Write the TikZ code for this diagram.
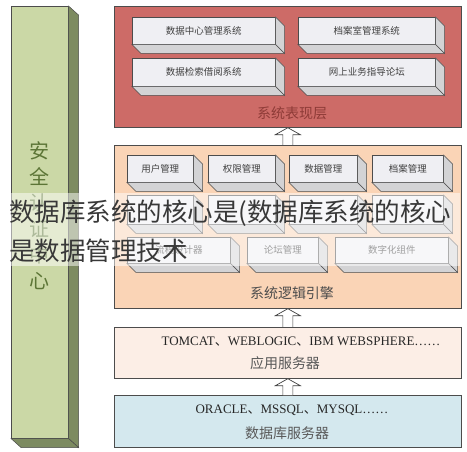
\documentclass[tikz,border=0pt]{standalone}
\usepackage{fontspec}
\setmainfont{Liberation Serif}
\newfontfamily\cjk{Noto Sans CJK SC}
\usetikzlibrary{calc}

\definecolor{showred}{HTML}{CD6B67}
\definecolor{showtext}{HTML}{8E3B37}
\definecolor{logicpeach}{HTML}{FAD4B6}
\definecolor{apppeach}{HTML}{FCEEE6}
\definecolor{dbblue}{HTML}{D4E8EE}
\definecolor{safegreen}{HTML}{CBD8A6}
\definecolor{safeside}{HTML}{7D8B61}
\definecolor{safetext}{HTML}{5C7536}
\definecolor{boxfront}{HTML}{EFEFF3}
\definecolor{boxside}{HTML}{D3D3D5}

% a module drawn as a flat block: name, north west corner, width, height, text
\newcommand{\modbox}[5]{%
  \node[modfront, minimum width=#3, minimum height=#4] (#1) at (#2) {#5};
  \filldraw[modside] (#1.north east) -- ++(9,9) -- ($(#1.south east)+(9,9)$) -- (#1.south east) -- cycle;
  \filldraw[modside] (#1.south west) -- ++(9,9) -- ($(#1.south east)+(9,9)$) -- (#1.south east) -- cycle;}

% hollow arrow from the lower layer up to the upper one
\newcommand{\layerarrow}[2]{%
  \filldraw[uparrow] let \p1=(#1.north), \p2=(#2.south) in
    (\x1-5pt,\y1) -- (\x1-5pt,\y2-7pt) -- (\x1-12.5pt,\y2-7pt) -- (\x1,\y2)
    -- (\x1+12.5pt,\y2-7pt) -- (\x1+5pt,\y2-7pt) -- (\x1+5pt,\y1);}

\begin{document}
\begin{tikzpicture}[x=1pt, y=-1pt,
    layer/.style={draw=black!70, line width=0.7pt, anchor=north west, minimum width=347, inner sep=0},
    layertitle/.style={font=\cjk\fontsize{14}{16}\selectfont},
    modfront/.style={draw=black!70, fill=boxfront, line width=0.5pt, anchor=north west, inner sep=0,
      font=\cjk\fontsize{9.5}{11}\selectfont, text=black!75},
    modside/.style={draw=black!70, fill=boxside, line width=0.5pt},
    uparrow/.style={draw=black!75, fill=white, line width=0.7pt},
    serverline/.style={font=\fontsize{13}{15}\selectfont, text=black!85},
    caption/.style={font=\cjk\fontsize{25.5}{28}\selectfont, text=black!78, anchor=west, inner sep=0}]
  \useasboundingbox (0,0) rectangle (467,452);

  % security column
  \node[draw=black!70, fill=safegreen, line width=0.5pt, anchor=north west, minimum width=57, minimum height=432, inner sep=0] (safe) at (11,6) {};
  \filldraw[draw=black!70, fill=safeside, line width=0.5pt] (safe.north east) -- ++(10,9) -- ($(safe.south east)+(10,9)$) -- (safe.south east) -- cycle;
  \filldraw[draw=black!70, fill=safeside, line width=0.5pt] (safe.south west) -- ++(10,9) -- ($(safe.south east)+(10,9)$) -- (safe.south east) -- cycle;
  \node[font=\cjk\fontsize{20}{26}\selectfont, text=safetext, align=center] (safetitle) at (39,216) {安\\全\\认\\证\\中\\心};

  % layers
  \node[layer, fill=showred, minimum height=121] (show) at (114,6) {};
  \node[layer, fill=logicpeach, minimum height=163] (logic) at (114,145) {};
  \node[layer, fill=apppeach, minimum height=51] (app) at (114,327) {};
  \node[layer, fill=dbblue, minimum height=52] (db) at (114,395) {};

  % presentation layer
  \modbox{datacenter}{132,17}{143}{27}{数据中心管理系统}
  \modbox{archiveroom}{298,17}{137}{27}{档案室管理系统}
  \modbox{retrieval}{132,58}{143}{28}{数据检索借阅系统}
  \modbox{guidance}{298,58}{137}{28}{网上业务指导论坛}
  \node[layertitle, text=showtext] (showtitle) at (292,113) {系统表现层};

  % logic layer
  \modbox{user}{127,155}{66}{27}{用户管理}
  \modbox{right}{208,155}{67}{27}{权限管理}
  \modbox{data}{289,155}{68}{27}{数据管理}
  \modbox{archive}{372,155}{71}{27}{档案管理}
  \modbox{rowa}{127,195}{66}{29}{}
  \modbox{rowb}{208,195}{67}{29}{}
  \modbox{rowc}{289,195}{68}{29}{}
  \modbox{rowd}{372,195}{71}{29}{}
  \modbox{designer}{127,237}{103}{26}{流程设计器}
  \modbox{forum}{247,237}{71}{26}{论坛管理}
  \modbox{digital}{335,237}{113}{26}{数字化组件}
  \node[layertitle, text=black!70] (logictitle) at (292,293) {系统逻辑引擎};

  % servers
  \node[serverline] (appnames) at (301,342) {TOMCAT{\cjk 、}WEBLOGIC{\cjk 、}IBM WEBSPHERE……};
  \node[layertitle, text=black!65] (apptitle) at (285,363) {应用服务器};
  \node[serverline] (dbnames) at (292,410) {ORACLE{\cjk 、}MSSQL{\cjk 、}MYSQL……};
  \node[layertitle, text=black!65] (dbtitle) at (287,433) {数据库服务器};

  % arrows between layers
  \layerarrow{logic}{show}
  \layerarrow{app}{logic}
  \layerarrow{db}{app}

  % caption band over the picture
  \fill[white, opacity=0.5] (9,193) rectangle (460,266);
  \node[caption] (caption1) at (9,213) {数据库系统的核心是(数据库系统的核心};
  \node[caption] (caption2) at (9,251) {是数据管理技术};
\end{tikzpicture}
\end{document}
